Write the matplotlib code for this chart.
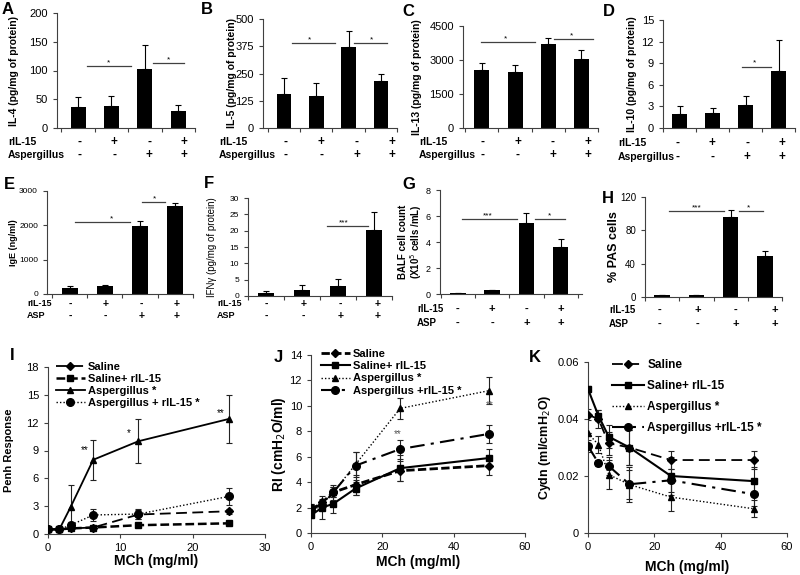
import numpy as np
import matplotlib
matplotlib.use("Agg")
import matplotlib.pyplot as plt

plt.rcParams['font.family'] = ['Liberation Sans', 'DejaVu Sans']

W, H = 800, 575

# ---- datos de barras ----
ril15 = ['-', '+', '-', '+']
asp = ['-', '-', '+', '+']

il4 = [37, 39, 102, 30]
il4_err = [17, 16, 42, 10]
il5 = [155, 145, 370, 215]
il5_err = [75, 60, 75, 35]
il13 = [2580, 2480, 3720, 3030]
il13_err = [280, 300, 250, 400]
il10 = [1.9, 2.1, 3.2, 7.9]
il10_err = [1.1, 0.7, 1.3, 4.3]
ige = [180, 230, 1980, 2560]
ige_err = [40, 40, 160, 80]
ifng = [0.8, 1.8, 3.0, 20.3]
ifng_err = [0.7, 1.5, 2.3, 5.5]
balf = [0.07, 0.3, 5.5, 3.6]
balf_err = [0, 0, 0.7, 0.6]
pas = [2, 2, 96, 49]
pas_err = [0, 0, 8, 6]

# lineas de significancia (x1, x2, y, texto, x texto)
sig_a = [(0.26, 1.57, 108, '*', 0.9), (2.23, 3.17, 113, '*', 2.7)]
sig_b = [(0.25, 1.59, 390, '*', 0.8), (2.18, 3.2, 390, '*', 2.7)]
sig_c = [(-0.03, 1.6, 3790, '*', 0.71), (2.17, 3.34, 3910, '*', 2.69)]
sig_d = [(1.89, 2.77, 8.5, '*', 2.26)]
sig_e = [(0.14, 1.71, 2100, '*', 1.18), (2.04, 2.72, 2680, '*', 2.41)]
sig_f = [(1.7, 2.84, 21.4, '***', 2.16)]
sig_g = [(0.12, 1.72, 5.77, '***', 0.87), (2.24, 3.12, 5.77, '*', 2.68)]
sig_h = [(0.21, 1.8, 103, '***', 1.02), (2.25, 2.95, 103, '*', 2.53)]

# ---- datos de curvas ----
mch_i = [0, 1.5625, 3.125, 6.25, 12.5, 25]
i_sal = [0.5, 0.5, 0.6, 0.7, 2.1, 2.45]
i_sal_err = [0, 0, 0, 0.1, 0.5, 0.25]
i_salr = [0.5, 0.5, 0.6, 0.7, 0.95, 1.15]
i_salr_err = [0, 0, 0, 0, 0.1, 0.1]
i_asp = [0.5, 0.5, 2.9, 8.0, 10.0, 12.4]
i_asp_err = [0, 0, 2.4, 2.15, 2.35, 2.6]
i_aspr = [0.5, 0.5, 0.95, 2.05, 2.15, 4.05]
i_aspr_err = [0, 0, 0.3, 0.6, 0.55, 0.9]

mch = [0, 3.125, 6.25, 12.5, 25, 50]
j_sal = [1.8, 2.4, 3.2, 3.8, 4.9, 5.3]
j_sal_err = [0.5, 0.3, 0.6, 0.8, 0.8, 0.7]
j_salr = [1.4, 2.0, 2.3, 3.5, 5.1, 5.9]
j_salr_err = [0.2, 0.9, 0.7, 0.5, 1.0, 0.7]
j_asp = [1.6, 2.3, 3.2, 5.4, 9.8, 11.2]
j_asp_err = [0.3, 0.3, 0.4, 1.0, 0.8, 1.05]
j_aspr = [2.0, 2.2, 3.2, 5.3, 6.6, 7.8]
j_aspr_err = [0.3, 0.3, 0.4, 1.1, 0.75, 0.7]

k_sal = [0.0415, 0.040, 0.0315, 0.030, 0.0256, 0.0256]
k_sal_err = [0.002, 0.003, 0.004, 0.006, 0.003, 0.003]
k_salr = [0.0505, 0.0412, 0.0338, 0.030, 0.020, 0.0182]
k_salr_err = [0.001, 0.002, 0.004, 0.006, 0.0065, 0.005]
k_asp = [0.035, 0.031, 0.0205, 0.017, 0.0126, 0.0085]
k_asp_err = [0, 0.003, 0.005, 0.006, 0.005, 0.003]
k_aspr = [0.0305, 0.0246, 0.0235, 0.0171, 0.0185, 0.0136]
k_aspr_err = [0.002, 0.001, 0.003, 0.005, 0.004, 0.004]

leg_i = ['Saline', 'Saline+ rIL-15', 'Aspergillus *', 'Aspergillus + rIL-15 *']
leg_jk = ['Saline', 'Saline+ rIL-15', 'Aspergillus *', 'Aspergillus +rIL-15 *']

GRIS = '#404040'

fig = plt.figure(figsize=(8, 5.75), dpi=100)


def ejes(l, t, r, b):
    ax = fig.add_axes([l / W, 1 - b / H, (r - l) / W, (b - t) / H])
    for s in ['top', 'right']:
        ax.spines[s].set_visible(False)
    for s in ['left', 'bottom']:
        ax.spines[s].set_color(GRIS)
        ax.spines[s].set_linewidth(0.8)
    ax.tick_params(colors=GRIS, labelcolor='black', width=0.8, length=3)
    return ax


def ftext(x, y, s, **kw):
    fig.text(x / W, 1 - y / H, s, **kw)


def barras(caja, vals, errs, yt, xlim, ylabel, lab_x, sig, filas, nombre2,
           fs_tick=8, fs_lab=7.5, fw_lab='bold', fs_cat=7.5):
    l, t, r, b = caja
    ax = ejes(l, t, r, b)
    x = np.arange(len(vals))
    ax.bar(x, vals, width=0.45, color='black', zorder=2)
    ax.errorbar(x, vals, yerr=[np.zeros(len(errs)), errs], fmt='none',
                ecolor='black', elinewidth=0.8, capsize=2.5, capthick=0.8)
    ax.set_xlim(*xlim)
    ax.set_ylim(yt[0], yt[-1])
    ax.set_yticks(yt)
    ax.tick_params(axis='y', labelsize=fs_tick)
    ax.set_xticks([-0.5, 0.5, 1.5, 2.5, 3.5])
    ax.set_xticklabels([])
    ax.set_ylabel(ylabel, fontsize=fs_lab, fontweight=fw_lab, va='center', linespacing=1.0)
    ax.yaxis.set_label_coords((lab_x - l) / (r - l), 0.5)
    for x1, x2, y, s, tx in sig:
        ax.plot([x1, x2], [y, y], color=GRIS, lw=0.9, clip_on=False)
        ax.text(tx, y, s, ha='center', va='bottom', fontsize=6)
    # filas de signos
    (lx, y1, y2) = filas
    ftext(lx, y1, 'rIL-15', fontsize=fs_cat, fontweight='bold', va='center')
    ftext(lx, y2, nombre2, fontsize=fs_cat, fontweight='bold', va='center')
    for i in range(len(vals)):
        xp = l + (i - xlim[0]) / (xlim[1] - xlim[0]) * (r - l)
        ftext(xp, y1, ril15[i], fontsize=fs_cat + 1, fontweight='bold', ha='center', va='center')
        ftext(xp, y2, asp[i], fontsize=fs_cat + 1, fontweight='bold', ha='center', va='center')
    return ax


# fila 1
barras((57, 13, 195, 128), il4, il4_err, [0, 50, 100, 150, 200], (-0.63, 3.31),
       'IL-4 (pg/mg of protein)', 14, sig_a, (8, 142, 155), 'Aspergillus')
barras((263, 19, 397, 128), il5, il5_err, [0, 125, 250, 375, 500], (-0.65, 3.15),
       'IL-5 (pg/mg of protein)', 232, sig_b, (219, 142, 155), 'Aspergillus')
barras((463, 26, 598, 128), il13, il13_err, [0, 1500, 3000, 4500], (-0.57, 3.29),
       'IL-13 (pg/mg of protein)', 417, sig_c, (419, 142, 155), 'Aspergillus')
barras((663, 20, 795, 128), il10, il10_err, [0, 3, 6, 9, 12, 15], (-0.4, 3.37),
       'IL-10 (pg/mg of protein)', 632, sig_d, (618, 143, 157), 'Aspergillus')

# fila 2
barras((47, 191, 193, 294), ige, ige_err, [0, 1000, 2000, 3000], (-0.64, 3.45),
       'IgE (ng/ml)', 14, sig_e, (27, 304, 316), 'ASP', fs_tick=6, fs_lab=6.5, fs_cat=6.5)
barras((248, 198, 392, 296), ifng, ifng_err, [0, 5, 10, 15, 20, 25, 30], (-0.49, 3.4),
       'IFNγ (pg/mg of protein)', 212, sig_f, (217, 304, 316), 'ASP',
       fs_tick=6, fs_lab=7, fw_lab='normal', fs_cat=6.5)
barras((440, 190, 582, 294), balf, balf_err, [0, 2, 4, 6, 8], (-0.52, 3.62),
       'BALF cell count\n(X10$^{5}$ cells /mL)', 411, sig_g, (417, 309, 323), 'ASP',
       fs_tick=6.5, fs_lab=7, fs_cat=7)
barras((645, 197, 782, 297), pas, pas_err, [0, 40, 80, 120], (-0.37, 3.2),
       '% PAS cells', 614, sig_h, (609, 310, 324), 'ASP', fs_tick=7, fs_lab=9, fs_cat=7)


# fila 3
def curvas(caja, x, series, estilos, xt, yt, ylabel, lab_x, xlab_y, leyenda, leg_kw,
           fs_ylab=9, fs_leg=8, ytl=None):
    l, t, r, b = caja
    ax = ejes(l, t, r, b)
    handles = []
    for (y, e), (ls, lw, mk, ms), lab in zip(series, estilos, leyenda):
        ax.errorbar(x, y, yerr=e, fmt='none', ecolor='#222222', elinewidth=0.8,
                    capsize=2.5, capthick=0.8, zorder=2)
        h, = ax.plot(x, y, color='black', ls=ls, lw=lw, marker=mk, ms=ms, zorder=3,
                     label=lab)
        handles.append(h)
    ax.set_xlim(xt[0], xt[-1])
    ax.set_ylim(yt[0], yt[-1])
    ax.set_xticks(xt)
    ax.set_yticks(yt)
    if ytl is not None:
        ax.set_yticklabels(ytl)
    ax.tick_params(labelsize=8)
    ax.set_xlabel('MCh (mg/ml)', fontsize=10, fontweight='bold', va='center')
    ax.xaxis.set_label_coords(0.5, (b - xlab_y) / (b - t))
    ax.set_ylabel(ylabel, fontsize=fs_ylab, fontweight='bold', va='center')
    ax.yaxis.set_label_coords((lab_x - l) / (r - l), 0.5)
    ax.legend(handles=handles, frameon=False, prop={'weight': 'bold', 'size': fs_leg},
              borderpad=0, handletextpad=0.3, **leg_kw)
    return ax


ax_i = curvas((48, 367, 265, 534), mch_i,
              [(i_sal, i_sal_err), (i_salr, i_salr_err), (i_asp, i_asp_err), (i_aspr, i_aspr_err)],
              [((0, (6, 3)), 1.3, 'D', 4), ((0, (3.5, 1.5)), 1.8, 's', 5),
               ('-', 1.3, '^', 5), ((0, (1, 1.5)), 1.0, 'o', 5.5)],
              [0, 10, 20, 30], [0, 3, 6, 9, 12, 15, 18], 'Penh Response', 9, 561,
              leg_i, dict(loc='upper left', bbox_to_anchor=(0.01, 1.065), handlelength=2.6,
                          labelspacing=0.2), fs_ylab=8)
for tx, ty, s in [(5.1, 9.0, '**'), (11.2, 10.9, '*'), (23.9, 13.0, '**')]:
    ax_i.text(tx, ty, s, fontsize=7, ha='center', va='center')

ax_j = curvas((311, 355, 525, 533), mch,
              [(j_sal, j_sal_err), (j_salr, j_salr_err), (j_asp, j_asp_err), (j_aspr, j_aspr_err)],
              [((0, (3, 1.2)), 2.0, 'D', 4), ('-', 1.5, 's', 5),
               ((0, (1, 1.5)), 1.0, '^', 5), ((0, (7, 3, 1.5, 3)), 1.5, 'o', 5.5)],
              [0, 20, 40, 60], [0, 2, 4, 6, 8, 10, 12, 14], 'RI (cmH$_2$O/ml)', 279, 562,
              leg_jk, dict(loc='upper left', bbox_to_anchor=(0.02, 1.065), handlelength=2.6,
                           labelspacing=0.2), fs_ylab=10)
for tx, ty, s in [(24.4, 7.8, '**'), (50.1, 10.05, '**')]:
    ax_j.text(tx, ty, s, fontsize=7, ha='center', va='center', color='#555555')

ax_k = curvas((588, 362, 787, 533), mch,
              [(k_sal, k_sal_err), (k_salr, k_salr_err), (k_asp, k_asp_err), (k_aspr, k_aspr_err)],
              [((0, (6, 3)), 1.3, 'D', 4), ('-', 1.5, 's', 5),
               ((0, (1, 1.5)), 1.0, '^', 5), ((0, (7, 3, 1.5, 3)), 1.5, 'o', 5.5)],
              [0, 20, 40, 60], [0, 0.02, 0.04, 0.06], 'Cydn (ml/cmH$_2$O)', 545, 567,
              leg_jk, dict(loc='upper left', bbox_to_anchor=(0.09, 1.05), handlelength=2.7,
                           labelspacing=0.75), fs_ylab=9, fs_leg=8.5,
              ytl=['0', '0.02', '0.04', '0.06'])

# letras de panel
for s, x, y in [('A', 2, 9), ('B', 201, 9), ('C', 402, 12), ('D', 603, 12),
                ('E', 4, 185), ('F', 204, 183), ('G', 402, 185), ('H', 602, 198),
                ('I', 10, 356), ('J', 274, 357), ('K', 529, 357)]:
    ftext(x, y, s, fontsize=12, fontweight='bold', va='center')

fig.savefig('out.png', dpi=100)
